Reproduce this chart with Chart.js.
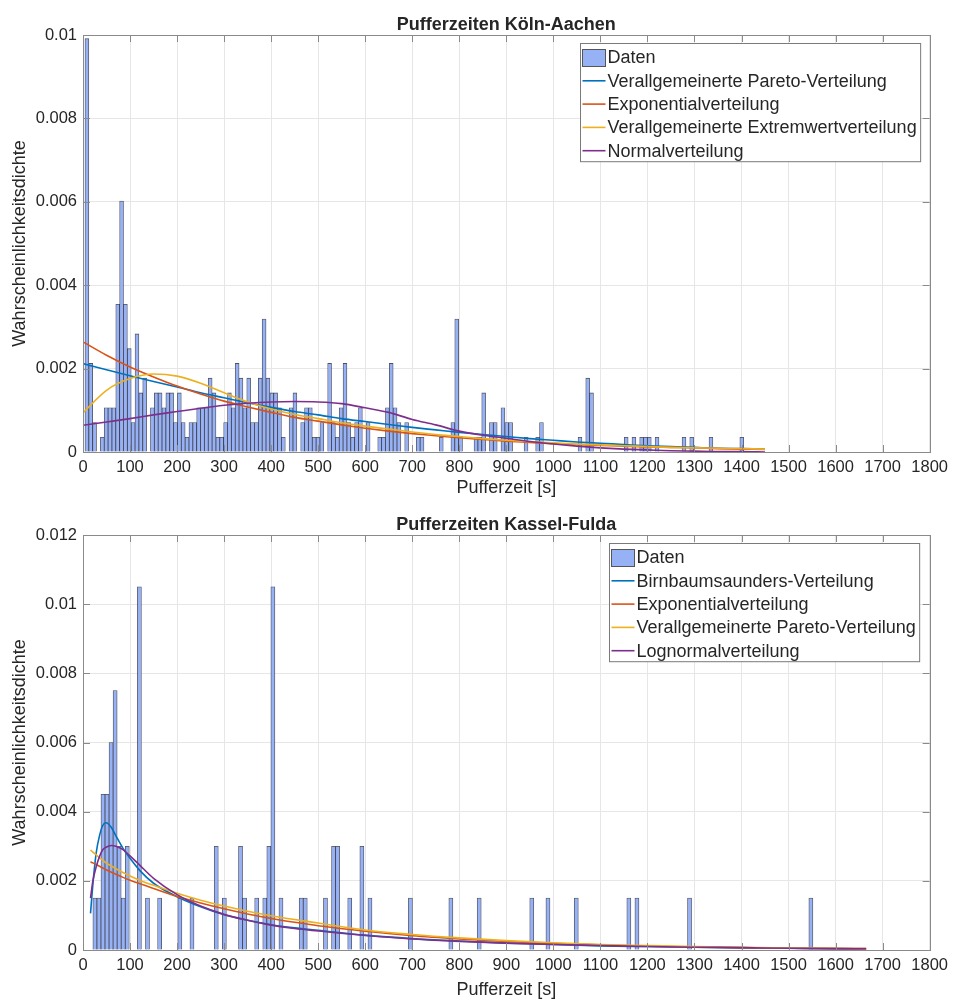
<!DOCTYPE html>
<html>
<head>
<meta charset="utf-8">
<script src="https://cdn.jsdelivr.net/npm/chart.js@4/dist/chart.umd.min.js"></script>
<style>
  body { margin: 0; background: #fff; }
  .panel { position: absolute; left: 0; width: 954px; }
</style>
</head>
<body>
<div class="panel" style="top:0"><canvas id="topChart" width="954" height="500"></canvas></div>
<div class="panel" style="top:500px"><canvas id="bottomChart" width="954" height="503"></canvas></div>
<script>
const topTitle = 'Pufferzeiten Köln-Aachen';
const bottomTitle = 'Pufferzeiten Kassel-Fulda';
const xAxisLabel = 'Pufferzeit [s]';
const yAxisLabel = 'Wahrscheinlichkeitsdichte';
const xTickLabels = ['0', '100', '200', '300', '400', '500', '600', '700', '800', '900',
  '1000', '1100', '1200', '1300', '1400', '1500', '1600', '1700', '1800'];
const topYTickLabels = ['0', '0.002', '0.004', '0.006', '0.008', '0.01'];
const bottomYTickLabels = ['0', '0.002', '0.004', '0.006', '0.008', '0.01', '0.012'];

// Köln-Aachen histogram: bins start at 4.2 s, 8.19 s wide, one count = 0.000354 density
const topBinStart = 4.2;
const topBinWidth = 8.19;
const topCountDensity = 0.000354;
const topCounts = [
  28, 6, 2, 0, 1, 3, 3, 3, 10, 17, 10, 7, 2, 8, 4, 5, 0, 3, 4, 4,
  3, 4, 4, 2, 4, 2, 1, 2, 2, 3, 3, 3, 5, 4, 1, 1, 2, 4, 3, 6,
  5, 3, 5, 2, 2, 5, 9, 5, 4, 4, 3, 1, 0, 3, 4, 0, 2, 3, 3, 1,
  1, 2, 0, 6, 2, 1, 3, 6, 2, 1, 2, 3, 0, 2, 0, 0, 1, 1, 3, 6,
  3, 2, 0, 2, 0, 0, 1, 1, 0, 0, 0, 0, 1, 0, 0, 2, 9, 1, 0, 0,
  0, 1, 1, 4, 0, 2, 2, 0, 3, 2, 2, 0, 0, 0, 1, 0, 0, 1, 2, 0,
  0, 0, 0, 0, 0, 0, 0, 0, 1, 0, 5, 4, 0, 0, 0, 0, 0, 0, 0, 0,
  1, 0, 1, 0, 1, 1, 1, 0, 1, 0, 0, 0, 0, 0, 0, 1, 0, 1, 0, 0,
  0, 0, 1, 0, 0, 0, 0, 0, 0, 0, 1
];

// Kassel-Fulda histogram: bins start at 21 s, 8.6 s wide, one count = 0.0015 density
const bottomBinStart = 21;
const bottomBinWidth = 8.6;
const bottomCountDensity = 0.0015;
const bottomBins = [0, 1, 2, 3, 4, 5, 6, 7, 8, 11, 13, 16, 21, 24, 30, 32, 36, 37, 40, 42,
  43, 44, 46, 51, 52, 57, 59, 60, 63, 66, 68, 78, 88, 95, 108, 112, 119, 132, 134, 147, 177];
const bottomBinCounts = [1, 1, 3, 3, 4, 5, 2, 1, 2, 7, 1, 1, 1, 1, 2, 1, 2, 1, 1, 1,
  2, 7, 1, 1, 1, 1, 2, 2, 1, 2, 1, 1, 1, 1, 1, 1, 1, 1, 1, 1, 1];

// fitted densities, Köln-Aachen
const topCurveX = [0, 50, 100, 150, 200, 250, 300, 350, 400, 450, 500, 550, 600, 650, 700,
  750, 800, 850, 900, 950, 1000, 1050, 1100, 1150, 1200, 1250, 1300, 1350, 1400, 1450];
const topPareto = [0.00212, 0.00197, 0.00183, 0.00169, 0.00156, 0.00142, 0.0013, 0.00118, 0.00107, 0.00097,
  0.00089, 0.0008, 0.00073, 0.00066, 0.00059, 0.00053, 0.00047, 0.00042, 0.00037, 0.00032,
  0.00028, 0.00024, 0.00021, 0.00018, 0.00015, 0.00013, 0.00011, 0.00009, 0.00008, 0.00007];
const topExponential = [0.00264, 0.00232, 0.00204, 0.0018, 0.00158, 0.00139, 0.00122, 0.00108, 0.00095, 0.00083,
  0.00074, 0.00065, 0.00057, 0.0005, 0.00044, 0.00039, 0.00034, 0.0003, 0.00026, 0.00023,
  0.0002, 0.00018, 0.00016, 0.00014, 0.00012, 0.00011, 0.0001, 0.00008, 0.00007, 0.00006];
const topExtreme = [0.00094, 0.00148, 0.00176, 0.00187, 0.00182, 0.00165, 0.00142, 0.0012, 0.00103, 0.0009,
  0.0008, 0.0007, 0.00062, 0.00055, 0.00048, 0.00042, 0.00037, 0.00032, 0.00028, 0.00025,
  0.00022, 0.00019, 0.00017, 0.00015, 0.00013, 0.00011, 0.0001, 0.00009, 0.00008, 0.00007];
const topNormal = [0.00064, 0.00072, 0.0008, 0.00089, 0.00097, 0.00105, 0.00112, 0.00117, 0.0012, 0.00121,
  0.0012, 0.00116, 0.00106, 0.00095, 0.00078, 0.00065, 0.0005, 0.0004, 0.00033, 0.00025,
  0.00019, 0.00014, 0.0001, 0.00007, 0.00005, 0.00003, 0.00002, 0.00001, 0.00001, 0];

// fitted densities, Kassel-Fulda
const bottomCurveX = [16, 21, 28, 35, 42, 49, 60, 70, 85, 100, 120, 150, 200, 250, 300, 350, 400, 450,
  500, 600, 700, 800, 900, 1000, 1100, 1200, 1300, 1400, 1500, 1600, 1665];
const bottomBirnbaum = [0.00106, 0.0019, 0.0028, 0.0033, 0.0036, 0.00368, 0.00355, 0.0033, 0.00294, 0.00265,
  0.00231, 0.00193, 0.00154, 0.00125, 0.00102, 0.00086, 0.00073, 0.00064, 0.00057, 0.00043,
  0.00033, 0.00026, 0.0002, 0.00016, 0.00012, 0.0001, 0.00008, 0.00006, 0.00005, 0.00004, 0.00003];
const bottomExponential = [0.00255, 0.00252, 0.00247, 0.00242, 0.00237, 0.00232, 0.00225, 0.00219, 0.0021, 0.00202,
  0.00192, 0.00178, 0.00155, 0.00136, 0.00119, 0.00104, 0.00091, 0.0008, 0.0007, 0.00054,
  0.00041, 0.00032, 0.00025, 0.00019, 0.00015, 0.00011, 0.00009, 0.00007, 0.00005, 0.00004, 0.00003];
const bottomPareto = [0.00289, 0.00283, 0.00275, 0.00267, 0.0026, 0.00252, 0.00243, 0.00235, 0.00224, 0.00214,
  0.00202, 0.00187, 0.00164, 0.00144, 0.00127, 0.00112, 0.00099, 0.00088, 0.00078, 0.00058,
  0.00045, 0.00035, 0.00027, 0.00021, 0.00016, 0.00013, 0.0001, 0.00008, 0.00006, 0.00005, 0.00004];
const bottomLognormal = [0.0015, 0.002, 0.0024, 0.0027, 0.0029, 0.00297, 0.00302, 0.003, 0.0029, 0.00272,
  0.00246, 0.00207, 0.0016, 0.00127, 0.00103, 0.00086, 0.00072, 0.00062, 0.00055, 0.00042,
  0.00032, 0.00025, 0.0002, 0.00016, 0.00013, 0.0001, 0.00008, 0.00007, 0.00005, 0.00004, 0.00004];

const blue = '#0072BD';
const orange = '#D95319';
const yellow = '#EDB120';
const purple = '#7E2F8E';
const barFill = 'rgb(150,178,245)';
const barEdge = 'rgba(20,20,40,0.75)';
const textColor = '#262626';
const fontFamily = '"Liberation Sans", Arial, Helvetica, sans-serif';

Chart.defaults.font.family = fontFamily;
Chart.defaults.color = textColor;

function toPoints(xs, ys) {
  return xs.map((x, i) => ({ x: x, y: ys[i] }));
}

// MATLAB-ish box, inward tick marks, title and legend inside the axes
const matlabAxes = {
  id: 'matlabAxes',
  afterDatasetsDraw(chart, args, opts) {
    const { ctx, chartArea: a, scales } = chart;
    ctx.save();
    ctx.strokeStyle = '#8a8a8a';
    ctx.lineWidth = 1;
    ctx.beginPath();
    scales.x.ticks.forEach(t => {
      const px = Math.round(scales.x.getPixelForValue(t.value)) + 0.5;
      ctx.moveTo(px, a.bottom); ctx.lineTo(px, a.bottom - 7);
      ctx.moveTo(px, a.top); ctx.lineTo(px, a.top + 7);
    });
    scales.y.ticks.forEach(t => {
      const py = Math.round(scales.y.getPixelForValue(t.value)) + 0.5;
      ctx.moveTo(a.left, py); ctx.lineTo(a.left + 7, py);
      ctx.moveTo(a.right, py); ctx.lineTo(a.right - 7, py);
    });
    ctx.stroke();
    ctx.strokeRect(Math.round(a.left) + 0.5, Math.round(a.top) + 0.5,
      Math.round(a.right - a.left), Math.round(a.bottom - a.top));

    // title
    ctx.fillStyle = textColor;
    ctx.font = 'bold 18px ' + fontFamily;
    ctx.textAlign = 'center';
    ctx.textBaseline = 'alphabetic';
    ctx.fillText(opts.title, (a.left + a.right) / 2, a.top - 5);

    // legend
    ctx.font = '18px ' + fontFamily;
    const items = chart.data.datasets;
    const textW = Math.max(...items.map(d => ctx.measureText(d.label).width));
    const rowH = 23.3;
    const boxW = 27 + textW + 4;
    const boxH = 14 + (items.length - 1) * rowH + 11;
    const bx = Math.round(a.right - 10 - boxW) + 0.5;
    const by = Math.round(a.top + 8) + 0.5;
    ctx.fillStyle = '#fff';
    ctx.fillRect(bx, by, boxW, boxH);
    ctx.strokeStyle = '#7a7a7a';
    ctx.strokeRect(bx, by, boxW, boxH);
    items.forEach((d, i) => {
      const cy = by + 14 + i * rowH;
      if (d.type === 'bar') {
        ctx.fillStyle = d.backgroundColor;
        ctx.fillRect(bx + 2, cy - 8, 23, 17);
        ctx.strokeStyle = '#555';
        ctx.strokeRect(bx + 2, cy - 8, 23, 17);
      } else {
        ctx.strokeStyle = d.borderColor;
        ctx.lineWidth = 1.6;
        ctx.beginPath();
        ctx.moveTo(bx + 2, cy); ctx.lineTo(bx + 25, cy);
        ctx.stroke();
      }
      ctx.fillStyle = textColor;
      ctx.textAlign = 'left';
      ctx.textBaseline = 'middle';
      ctx.fillText(d.label, bx + 27, cy + 1);
    });
    ctx.restore();
  }
};

function makeChart(id, cfg) {
  const curveSets = cfg.curves.map((c, i) => ({
    type: 'line',
    label: c.label,
    data: toPoints(cfg.curveX, c.values),
    borderColor: c.color,
    borderWidth: 1.6,
    pointRadius: 0,
    fill: false,
    tension: 0.4,
    cubicInterpolationMode: 'monotone',
    order: cfg.curves.length - i
  }));
  return new Chart(document.getElementById(id), {
    type: 'bar',
    data: {
      datasets: [{
        type: 'bar',
        label: 'Daten',
        data: cfg.bars,
        backgroundColor: barFill,
        borderColor: barEdge,
        borderWidth: 0.8,
        barPercentage: 1,
        categoryPercentage: 1,
        order: 10
      }].concat(curveSets)
    },
    options: {
      responsive: false,
      animation: false,
      events: [],
      layout: { padding: { left: 0, right: 21, top: 35, bottom: 0 } },
      plugins: {
        legend: { display: false },
        tooltip: { enabled: false },
        matlabAxes: { title: cfg.title }
      },
      scales: {
        x: {
          type: 'linear',
          min: 0,
          max: 1800,
          offset: false,
          grid: { color: '#e6e6e6', drawTicks: false, offset: false },
          border: { display: false },
          ticks: {
            stepSize: 100,
            autoSkip: false,
            maxRotation: 0,
            padding: 6,
            color: textColor,
            font: { size: 16.5 },
            callback: (v, i) => xTickLabels[i]
          },
          title: {
            display: true,
            text: xAxisLabel,
            color: textColor,
            font: { size: 18 },
            padding: { top: 0, bottom: cfg.xTitlePad }
          },
          afterFit: s => { s.height = cfg.xAxisHeight; }
        },
        y: {
          min: 0,
          max: cfg.yMax,
          grid: { color: '#e6e6e6', drawTicks: false },
          border: { display: false },
          ticks: {
            stepSize: 0.002,
            autoSkip: false,
            padding: 6,
            color: textColor,
            font: { size: 16.5 },
            callback: (v, i) => cfg.yTicks[i]
          },
          title: {
            display: true,
            text: yAxisLabel,
            color: textColor,
            font: { size: 18 },
            padding: { top: 9, bottom: 0 }
          },
          afterFit: s => { s.width = 83; }
        }
      }
    },
    plugins: [matlabAxes]
  });
}

const topBars = [];
topCounts.forEach((c, k) => {
  if (c > 0) topBars.push({ x: topBinStart + topBinWidth * (k + 0.5), y: c * topCountDensity });
});
const bottomBars = bottomBins.map((k, i) => ({
  x: bottomBinStart + bottomBinWidth * (k + 0.5),
  y: bottomBinCounts[i] * bottomCountDensity
}));

makeChart('topChart', {
  title: topTitle,
  bars: topBars,
  curveX: topCurveX,
  yMax: 0.01,
  yTicks: topYTickLabels,
  xAxisHeight: 48,
  xTitlePad: 1,
  curves: [
    { label: 'Verallgemeinerte Pareto-Verteilung', values: topPareto, color: blue },
    { label: 'Exponentialverteilung', values: topExponential, color: orange },
    { label: 'Verallgemeinerte Extremwertverteilung', values: topExtreme, color: yellow },
    { label: 'Normalverteilung', values: topNormal, color: purple }
  ]
});

makeChart('bottomChart', {
  title: bottomTitle,
  bars: bottomBars,
  curveX: bottomCurveX,
  yMax: 0.012,
  yTicks: bottomYTickLabels,
  xAxisHeight: 53,
  xTitlePad: 2,
  curves: [
    { label: 'Birnbaumsaunders-Verteilung', values: bottomBirnbaum, color: blue },
    { label: 'Exponentialverteilung', values: bottomExponential, color: orange },
    { label: 'Verallgemeinerte Pareto-Verteilung', values: bottomPareto, color: yellow },
    { label: 'Lognormalverteilung', values: bottomLognormal, color: purple }
  ]
});
</script>
</body>
</html>
